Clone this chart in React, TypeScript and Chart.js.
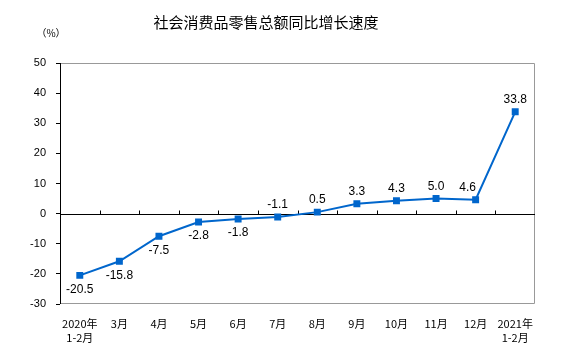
import React, { useEffect, useRef } from "react";
import { Chart, registerables } from "chart.js";

Chart.register(...registerables);

const TITLE = "社会消费品零售总额同比增长速度";
const UNIT = "（%）";
const categories: (string | string[])[] = [
  ["2020年", "1-2月"], "3月", "4月", "5月", "6月", "7月", "8月", "9月", "10月", "11月", "12月", ["2021年", "1-2月"],
];
const growth = [-20.5, -15.8, -7.5, -2.8, -1.8, -1.1, 0.5, 3.3, 4.3, 5.0, 4.6, 33.8];
const labelTexts = ["-20.5", "-15.8", "-7.5", "-2.8", "-1.8", "-1.1", "0.5", "3.3", "4.3", "5.0", "4.6", "33.8"];
const labelBelow = [true, true, true, true, true, false, false, false, false, false, false, false];
const labelShift = [0, 0, 0, 0, 0, 0, 0, 0, 0, 0, -8, 0];
const yMin = -30;
const yMax = 50;
const yStep = 10;

const LINE = "#0066CC";
const NUM_FONT = "'Liberation Sans', Arial, sans-serif";
const CJK_FONT = "'Noto Sans CJK SC', 'Liberation Sans', sans-serif";

const decorPlugin = {
  id: "decor",
  beforeDatasetsDraw(chart: any) {
    const { ctx, chartArea } = chart;
    const { left, right, top, bottom } = chartArea;
    const y = chart.scales.y;
    ctx.save();
    ctx.strokeStyle = "#999999";
    ctx.lineWidth = 1;
    ctx.beginPath();
    ctx.moveTo(left, top + 0.5);
    ctx.lineTo(right - 0.5, top + 0.5);
    ctx.lineTo(right - 0.5, bottom - 0.5);
    ctx.lineTo(left, bottom - 0.5);
    ctx.stroke();
    const y0 = Math.round(y.getPixelForValue(0)) + 0.5;
    ctx.strokeStyle = "#000000";
    ctx.beginPath();
    ctx.moveTo(left, y0);
    ctx.lineTo(right, y0);
    ctx.stroke();
    const n = categories.length;
    const w = (right - left) / n;
    ctx.beginPath();
    for (let i = 1; i < n; i++) {
      const px = Math.round(left + i * w) + 0.5;
      ctx.moveTo(px, y0);
      ctx.lineTo(px, y0 - 4);
    }
    ctx.stroke();
    ctx.beginPath();
    ctx.moveTo(left + 0.5, top);
    ctx.lineTo(left + 0.5, bottom);
    ctx.stroke();
    ctx.restore();
  },
  afterDraw(chart: any) {
    const { ctx } = chart;
    const meta = chart.getDatasetMeta(0);
    ctx.save();
    ctx.fillStyle = "#000000";
    ctx.font = `12px ${NUM_FONT}`;
    ctx.textAlign = "center";
    meta.data.forEach((pt: any, i: number) => {
      if (labelBelow[i]) {
        ctx.textBaseline = "top";
        ctx.fillText(labelTexts[i], pt.x + labelShift[i], pt.y + 8);
      } else {
        ctx.textBaseline = "bottom";
        ctx.fillText(labelTexts[i], pt.x + labelShift[i], pt.y - 6);
      }
    });
    ctx.font = `15px ${CJK_FONT}`;
    ctx.textBaseline = "middle";
    ctx.fillText(TITLE, 266, 22);
    ctx.font = `10px ${CJK_FONT}`;
    ctx.fillText(UNIT, 51, 33);
    ctx.restore();
  },
};

export default function App() {
  const ref = useRef<HTMLCanvasElement | null>(null);
  useEffect(() => {
    document.body.style.margin = "0";
    const canvas = ref.current;
    if (!canvas) return;
    const chart = new Chart(canvas, {
      type: "line",
      data: {
        labels: categories as any,
        datasets: [
          {
            data: growth,
            borderColor: LINE,
            backgroundColor: LINE,
            borderWidth: 2,
            pointStyle: "rect",
            pointRadius: 3.5,
            pointBackgroundColor: LINE,
            pointBorderColor: LINE,
            tension: 0,
          },
        ],
      },
      options: {
        animation: false,
        responsive: false,
        maintainAspectRatio: false,
        layout: { padding: { left: 0, right: 28, top: 63, bottom: 0 } },
        plugins: { legend: { display: false }, tooltip: { enabled: false }, title: { display: false } },
        scales: {
          x: {
            type: "category",
            offset: true,
            grid: { display: false, drawTicks: false },
            border: { display: false },
            ticks: {
              color: "#000000",
              padding: 12,
              maxRotation: 0,
              autoSkip: false,
              font: { family: CJK_FONT, size: 11, lineHeight: 1.35 },
            },
            afterFit(scale: any) {
              scale.height = 58;
            },
          },
          y: {
            min: yMin,
            max: yMax,
            ticks: {
              stepSize: yStep,
              color: "#000000",
              padding: 10,
              font: { family: NUM_FONT, size: 11 },
            },
            grid: { drawOnChartArea: false, drawTicks: true, tickLength: 4, color: "#000000" },
            border: { display: false },
            afterFit(scale: any) {
              scale.width = 60;
            },
          },
        },
      },
      plugins: [decorPlugin],
    });
    return () => chart.destroy();
  }, []);
  return <canvas ref={ref} width={563} height={362} style={{ display: "block" }} />;
}
